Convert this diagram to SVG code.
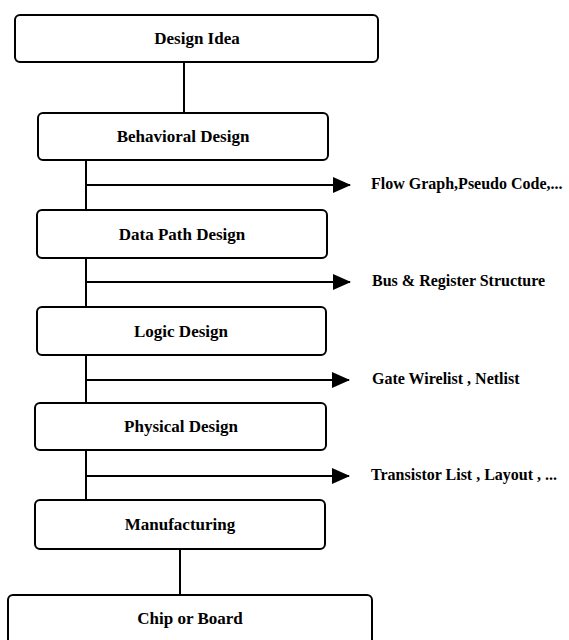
<svg xmlns="http://www.w3.org/2000/svg" width="569" height="640" viewBox="0 0 569 640">
  <defs>
    <marker id="arrowhead" markerWidth="9" markerHeight="8" refX="8.5" refY="4" orient="auto" markerUnits="strokeWidth">
      <path d="M0,0 L9,4 L0,8 Z" fill="#000"/>
    </marker>
    <style>
      .box { fill: #fff; stroke: #000; stroke-width: 2; }
      .link { stroke: #000; stroke-width: 2; fill: none; }
      .out { stroke: #000; stroke-width: 2; fill: none; marker-end: url(#arrowhead); }
      .label { font-family: "Liberation Serif", "Times New Roman", serif; font-weight: bold; font-size: 17px; fill: #000; text-anchor: middle; }
      .note { font-family: "Liberation Serif", "Times New Roman", serif; font-weight: bold; font-size: 16px; fill: #000; }
    </style>
  </defs>
  <rect width="569" height="640" fill="#fff"/>

  <!-- connectors: main flow and output arrows -->
  <g id="connectors">
    <line class="link" x1="184" y1="62" x2="184" y2="113"/>
    <line class="link" x1="86" y1="160" x2="86" y2="210"/>
    <line class="link" x1="86" y1="258" x2="86" y2="307"/>
    <line class="link" x1="86" y1="355" x2="86" y2="403"/>
    <line class="link" x1="86" y1="450" x2="86" y2="500"/>
    <line class="link" x1="180" y1="549" x2="180" y2="595"/>
    <line class="out" x1="86" y1="185" x2="350" y2="185"/>
    <line class="out" x1="86" y1="282" x2="350" y2="282"/>
    <line class="out" x1="86" y1="380" x2="349" y2="380"/>
    <line class="out" x1="86" y1="476" x2="349" y2="476"/>
  </g>

  <g id="design-idea">
    <rect class="box" x="15" y="15" width="363" height="47" rx="5"/>
    <text class="label" x="197" y="44">Design Idea</text>
  </g>
  <g id="behavioral-design">
    <rect class="box" x="38" y="113" width="290" height="47" rx="5"/>
    <text class="label" x="183" y="142">Behavioral Design</text>
  </g>
  <g id="data-path-design">
    <rect class="box" x="37" y="210" width="290" height="48" rx="5"/>
    <text class="label" x="182" y="239.5">Data Path Design</text>
  </g>
  <g id="logic-design">
    <rect class="box" x="37" y="307" width="289" height="48" rx="5"/>
    <text class="label" x="181" y="337">Logic Design</text>
  </g>
  <g id="physical-design">
    <rect class="box" x="35" y="403" width="291" height="47" rx="5"/>
    <text class="label" x="181" y="432">Physical Design</text>
  </g>
  <g id="manufacturing">
    <rect class="box" x="35" y="500" width="290" height="49" rx="5"/>
    <text class="label" x="180" y="530">Manufacturing</text>
  </g>
  <g id="chip-or-board">
    <rect class="box" x="8" y="595" width="364" height="60" rx="5"/>
    <text class="label" x="190" y="624">Chip or Board</text>
  </g>

  <!-- outputs of each design stage -->
  <g id="outputs">
    <text class="note" x="371" y="189">Flow Graph,Pseudo Code,...</text>
    <text class="note" x="372" y="286">Bus &amp; Register Structure</text>
    <text class="note" x="372" y="384">Gate Wirelist , Netlist</text>
    <text class="note" x="371" y="480">Transistor List , Layout , ...</text>
  </g>
</svg>
